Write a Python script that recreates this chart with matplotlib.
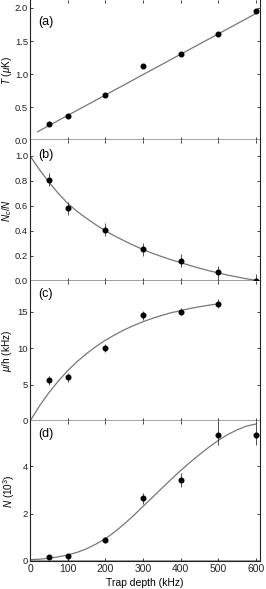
import numpy as np
import matplotlib
import matplotlib.pyplot as plt

matplotlib.use("Agg")

plt.rcParams['font.family'] = ['Liberation Sans', 'DejaVu Sans']
plt.rcParams['mathtext.fontset'] = 'custom'
plt.rcParams['mathtext.rm'] = 'Liberation Sans'
plt.rcParams['mathtext.it'] = 'Liberation Sans:italic'

# measured points
depth = [50, 100, 200, 300, 400, 500, 600]
temp = [0.25, 0.37, 0.69, 1.13, 1.30, 1.60, 1.96]
frac = [0.81, 0.58, 0.41, 0.25, 0.16, 0.07, 0.0]
frac_err = [0.05, 0.05, 0.05, 0.05, 0.05, 0.05, 0.05]
depth_mu = [50, 100, 200, 300, 400, 500]
mu = [5.6, 6.0, 10.0, 14.5, 15.0, 16.1]
mu_err = [0.6, 0.6, 0.6, 0.6, 0.5, 0.6]
natoms = [0.16, 0.21, 0.87, 2.64, 3.43, 5.35, 5.35]
natoms_err = [0.05, 0.05, 0.12, 0.25, 0.3, 0.45, 0.45]

# fit curves
fit_a_x = [20, 605]
fit_a_y = [0.13, 1.93]
fit_x = [0, 25, 50, 75, 100, 125, 150, 175, 200, 225, 250, 275, 300,
         325, 350, 375, 400, 425, 450, 475, 500, 525, 550, 575, 600]
fit_b_y = [1.0, 0.89, 0.79, 0.70, 0.62, 0.555, 0.50, 0.448, 0.40, 0.358, 0.32, 0.284, 0.25,
           0.22, 0.193, 0.168, 0.145, 0.122, 0.10, 0.08, 0.062, 0.045, 0.03, 0.015, 0.003]
fit_c_y = [0, 2.06, 3.87, 5.47, 6.89, 8.14, 9.23, 10.2, 11.06, 11.81, 12.49, 13.08, 13.6,
           14.07, 14.48, 14.84, 15.13, 15.42, 15.66, 15.87, 16.06]
fit_d_y = [0.04, 0.06, 0.1, 0.16, 0.24, 0.35, 0.5, 0.7, 0.93, 1.22, 1.55, 1.91, 2.3,
           2.68, 3.07, 3.45, 3.82, 4.17, 4.5, 4.81, 5.1, 5.35, 5.55, 5.71, 5.8]

fig, axes = plt.subplots(4, 1, figsize=(2.66, 5.89), dpi=100, sharex=True)
fig.subplots_adjust(left=0.113, right=0.977, top=1.0, bottom=0.047, hspace=0)

curve_col = '#777777'
zero_col = '#999999'
ms = 3.3

ax = axes[0]
ax.plot(fit_a_x, fit_a_y, color=curve_col, lw=0.9)
ax.plot(depth, temp, 'o', color='black', ms=ms)
ax.set_ylim(0, 2.12)
ax.set_yticks([0.0, 0.5, 1.0, 1.5, 2.0])
ax.set_yticklabels(['0.0', '0.5', '1.0', '1.5', '2.0'])
ax.set_ylabel(r'$T$ ($\mu$K)')
ax.text(0.035, 0.84, '(a)', transform=ax.transAxes, fontsize=9, va='center')

ax = axes[1]
ax.plot(fit_x, fit_b_y, color=curve_col, lw=0.9)
ax.errorbar(depth, frac, yerr=frac_err, fmt='o', color='black', ms=ms,
            elinewidth=0.6, ecolor='#333333', capsize=0)
ax.set_ylim(0, 1.125)
ax.set_yticks([0.0, 0.2, 0.4, 0.6, 0.8, 1.0])
ax.set_yticklabels(['0.0', '0.2', '0.4', '0.6', '0.8', '1.0'])
ax.set_ylabel(r'$N_c/N$')
ax.text(0.035, 0.896, '(b)', transform=ax.transAxes, fontsize=9, va='center')

ax = axes[2]
ax.plot(fit_x[:len(fit_c_y)], fit_c_y, color=curve_col, lw=0.9)
ax.errorbar(depth_mu, mu, yerr=mu_err, fmt='o', color='black', ms=ms,
            elinewidth=0.6, ecolor='#333333', capsize=0)
ax.set_ylim(0, 19.24)
ax.set_yticks([0, 5, 10, 15])
ax.set_ylabel(r'$\mu$/h (kHz)')
ax.text(0.035, 0.908, '(c)', transform=ax.transAxes, fontsize=9, va='center')

ax = axes[3]
ax.plot(fit_x, fit_d_y, color=curve_col, lw=0.9)
ax.errorbar(depth, natoms, yerr=natoms_err, fmt='o', color='black', ms=ms,
            elinewidth=0.6, ecolor='#333333', capsize=0)
ax.set_ylim(-0.03, 5.93)
ax.set_yticks([0, 2, 4])
ax.set_ylabel(r'$N$ (10$^3$)')
ax.text(0.035, 0.91, '(d)', transform=ax.transAxes, fontsize=9, va='center')
ax.set_xlabel('Trap depth (kHz)', fontsize=7.5, labelpad=3)
ax.set_xlim(0, 611)
ax.set_xticks([0, 100, 200, 300, 400, 500, 600])

for i, ax in enumerate(axes):
    ax.axhline(0, color=zero_col, lw=1.3, zorder=0)
    ax.tick_params(direction='in', length=2.5, width=0.6, labelsize=6.8,
                   top=True, right=True, pad=1.5, colors='#222222')
    ax.tick_params(axis='x', labelsize=7.5, pad=2)
    ax.yaxis.set_label_coords(-0.07 if i < 3 else -0.055, 0.5)
    ax.yaxis.label.set_size(7.2)
    ax.spines['top'].set_visible(False)
    if i < 3:
        ax.spines['bottom'].set_visible(False)
    for s in ['left', 'right', 'bottom']:
        ax.spines[s].set_color('#222222')
        ax.spines[s].set_linewidth(0.8)

fig.savefig('out.png', dpi=100)
